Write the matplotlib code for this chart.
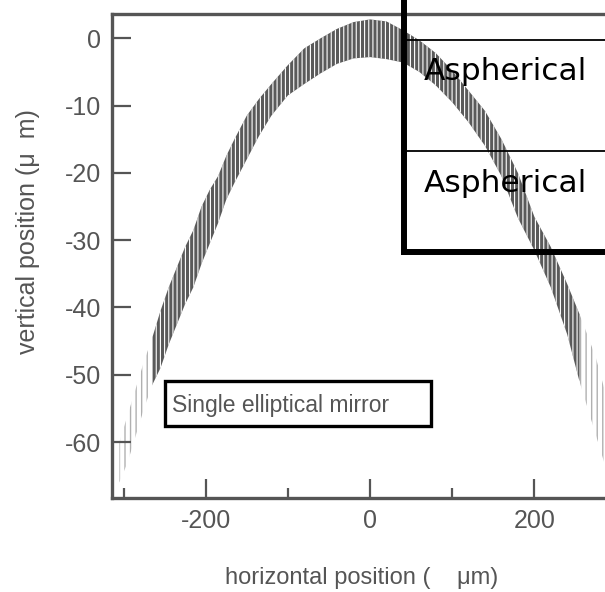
import numpy as np
import matplotlib
matplotlib.use('Agg')
import matplotlib.pyplot as plt
from matplotlib.lines import Line2D
from matplotlib.patches import Rectangle

x_pos = [-305, -295, -285, -275, -265, -255, -245, -235, -225, -215, -205, -195,
         -185, -175, -165, -150, -135, -120, -100, -80, -60, -40, -20, 0, 20, 40,
         60, 80, 100, 120, 140, 160, 180, 200, 220, 240, 255, 265, 275, 285]
y_top = [-60, -56, -52, -48, -44.5, -40.5, -37, -34, -31, -28.5, -25, -22.5,
         -20.5, -17.5, -15, -11.5, -9, -6.8, -4, -1.5, 0, 1.4, 2.4, 2.8, 2.5, 1.2,
         -0.3, -2.2, -4.8, -7.8, -10.8, -15, -20, -26.5, -31, -36.5, -41, -44.2, -47.5, -52]
y_bot = [-66, -63, -59, -55, -51.5, -49, -45.5, -42.5, -39.5, -37, -33.5, -30.5,
         -27.5, -24, -21.5, -18, -14.5, -11.5, -8.5, -6.8, -5.2, -3.8, -3, -2.8, -3.1, -3.6,
         -5, -7, -9.5, -12.5, -16, -20.5, -26.7, -31.5, -37, -44, -51, -55, -59, -63]

x_ticks = [-200, 0, 200]
x_minor = [-300, -100, 100]
y_ticks = [0, -10, -20, -30, -40, -50, -60]

gray = '#555555'
plt.rcParams['font.family'] = ['Liberation Sans', 'DejaVu Sans']

W, H = 605, 592
fig = plt.figure(figsize=(W / 100, H / 100), dpi=100)
ax = fig.add_axes([112 / W, 1 - 498 / H, (W - 112) / W, (498 - 14) / H])

x = np.array(x_pos)
lo = np.array(y_bot)
hi = np.array(y_top)
dark = (x >= -265) & (x <= 255)
light = ~dark | (x == -265) | (x == 255)
# dark core: gray fill cut by thin white slits
plt.rcParams['hatch.linewidth'] = 0.8
ax.fill_between(x, lo, hi, where=dark, facecolor='#5a5a5a', edgecolor='white',
                hatch='||||', linewidth=0)
# faint tails at both ends
plt.rcParams['hatch.linewidth'] = 1.0
ax.fill_between(x, lo, hi, where=light, facecolor='none', edgecolor='#b0b0b0',
                hatch='|||', linewidth=0)

ax.set_xlim(-314, 286)
ax.set_ylim(-68.3, 3.6)
ax.set_xticks(x_ticks)
ax.set_xticks(x_minor, minor=True)
ax.set_yticks(y_ticks)
ax.set_xticklabels([str(v) for v in x_ticks])
ax.set_yticklabels([str(v) for v in y_ticks])
ax.tick_params(axis='both', which='major', direction='in', length=14, width=1.6,
               color=gray, labelcolor=gray, labelsize=18, pad=8)
ax.tick_params(axis='x', which='minor', direction='in', length=7, width=1.6, color=gray)
ax.spines['right'].set_visible(False)
for s in ['top', 'left', 'bottom']:
    ax.spines[s].set_color(gray)
    ax.spines[s].set_linewidth(2.4)

fig.text(28 / W, 1 - 232 / H, 'vertical position (\u03bc  m)', rotation=90,
         ha='center', va='center', color=gray, fontsize=18)
fig.text(362 / W, 1 - 578 / H, 'horizontal position (    \u03bcm)',
         ha='center', va='center', color=gray, fontsize=17)


def px_line(x0, y0, x1, y1, lw):
    fig.add_artist(Line2D([x0 / W, x1 / W], [1 - y0 / H, 1 - y1 / H],
                          color='black', linewidth=lw, solid_capstyle='butt'))


# overlay table on the right
px_line(404, 0, 404, 255, 4.3)
px_line(401, 252, 605, 252, 4.3)
px_line(404, 39.5, 605, 39.5, 1.3)
px_line(404, 151, 605, 151, 1.3)
for yb in [80, 192]:
    fig.text(505 / W, 1 - yb / H, 'Aspherical', ha='center', va='baseline',
             fontsize=22.5, color='black', family='DejaVu Sans')

# label box
fig.add_artist(Rectangle((165 / W, 1 - 426 / H), (431 - 165) / W, (426 - 381) / H,
                         transform=fig.transFigure, facecolor='white',
                         edgecolor='black', linewidth=2.4))
fig.text(172 / W, 1 - 412 / H, 'Single elliptical mirror', ha='left', va='baseline',
         fontsize=16.5, color=gray)

fig.savefig('out.png', dpi=100)
